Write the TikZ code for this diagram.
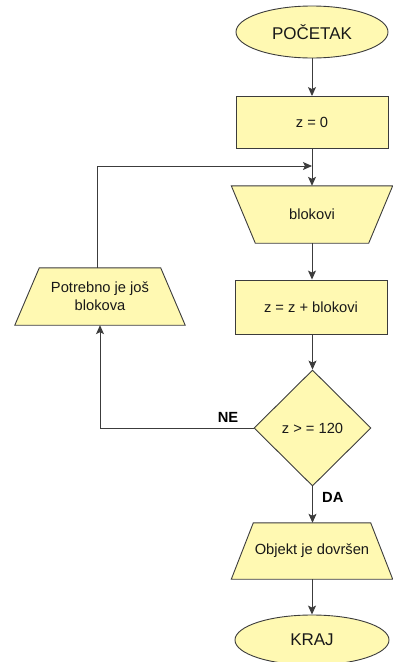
\documentclass[tikz,border=0pt]{standalone}
\usepackage{fontspec}
\setmainfont{Liberation Sans}
\usetikzlibrary{shapes.geometric,arrows.meta}
\definecolor{boxfill}{RGB}{255,249,178}
\definecolor{boxline}{RGB}{60,60,60}
\definecolor{txt}{RGB}{25,25,25}
\tikzset{
  base/.style={draw=boxline, fill=boxfill, line width=0.9pt, text=txt, inner sep=0pt,
    font=\fontsize{14.7}{18}\selectfont, align=center},
  term/.style={base, ellipse, minimum width=152pt, minimum height=52pt, font=\fontsize{17}{20}\selectfont},
  proc/.style={base, rectangle, minimum width=152pt, minimum height=52pt},
  decis/.style={base, diamond, minimum width=117pt, minimum height=116pt, aspect=1},
  tbox/.style={rectangle, inner sep=0pt, text=txt, font=\fontsize{14.7}{18}\selectfont, align=center},
  tshape/.style={draw=boxline, fill=boxfill, line width=0.9pt, line join=miter},
  conn/.style={draw=boxline, line width=0.9pt, -{Stealth[length=9pt,width=8pt,inset=2pt]}},
  lbl/.style={font=\bfseries\fontsize{14.7}{18}\selectfont, text=black, inner sep=0pt}
}
\begin{document}
\begin{tikzpicture}[x=1pt,y=-1pt]
\useasboundingbox (0,0) rectangle (393,662);
% trapezoid backgrounds
\node[tbox, minimum width=161pt, minimum height=57pt] (blok) at (312,214.5) {};
\path[tshape] (blok.north west) -- (blok.north east) -- ([xshift=-24pt]blok.south east) -- ([xshift=24pt]blok.south west) -- cycle;
\node[tbox] at (blok.center) {blokovi};
\node[tbox, minimum width=170pt, minimum height=57pt] (pot) at (100,296.5) {};
\path[tshape] (pot.south west) -- (pot.south east) -- ([xshift=-24.5pt]pot.north east) -- ([xshift=24.5pt]pot.north west) -- cycle;
\node[tbox] at (pot.center) {Potrebno je još\\blokova};
\node[tbox, minimum width=161pt, minimum height=56pt] (obj) at (312,551) {};
\path[tshape] (obj.south west) -- (obj.south east) -- ([xshift=-22pt]obj.north east) -- ([xshift=22pt]obj.north west) -- cycle;
\node[tbox] at (obj.center) {Objekt je dovršen};
% other nodes
\node[term] (start) at (312,32) {POČETAK};
\node[proc] (z0) at (312,122.5) {z = 0};
\node[proc, minimum height=54pt] (zz) at (311,307) {z = z + blokovi};
\node[decis] (dec) at (312.5,428) {z > = 120};
\node[term, minimum height=50pt, minimum width=154pt] (kraj) at (312,640) {KRAJ};
\coordinate (j) at (312,166);
% connectors
\draw[conn] (start.south) -- (z0.north);
\draw[conn] (z0.south) -- (blok.north);
\draw[conn] (blok.south) -- (zz.north -| blok.south);
\draw[conn] (zz.south -| dec.north) -- (dec.north);
\draw[conn] ([xshift=-3pt]pot.north) |- (j);
\draw[conn] (dec.west) -| (pot.south);
\node[lbl] (ne) at (228,417) {NE};
\draw[conn] (dec.south) -- (obj.north -| dec.south);
\node[lbl, anchor=west] (da) at (322,497) {DA};
\draw[conn] (obj.south) -- (kraj.north);
\end{tikzpicture}
\end{document}
